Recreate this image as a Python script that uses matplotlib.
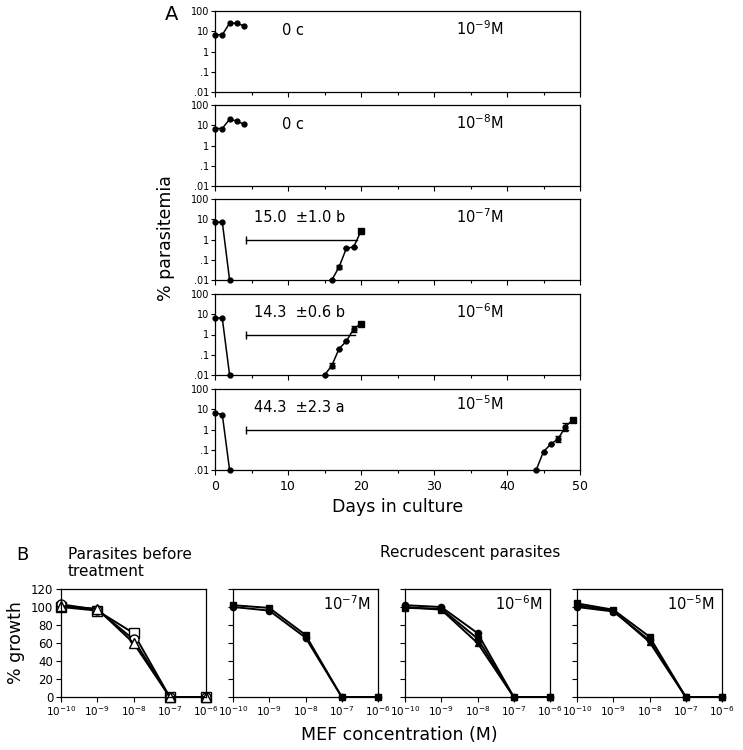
import matplotlib
matplotlib.use("Agg")
import matplotlib.pyplot as plt
from matplotlib.ticker import MultipleLocator, NullLocator

plt.rcParams["font.family"] = ["DejaVu Sans"]

# ---- panel A data: % parasitemia vs days ----
a_labels = ["10$^{-9}$M", "10$^{-8}$M", "10$^{-7}$M", "10$^{-6}$M", "10$^{-5}$M"]
a_notes = ["0 c", "0 c", "15.0  \u00b11.0 b", "14.3  \u00b10.6 b", "44.3  \u00b12.3 a"]

early_days = [[0, 1, 2, 3, 4], [0, 1, 2, 3, 4], [0, 1, 2], [0, 1, 2], [0, 1, 2]]
early_vals = [[6.7, 6.7, 25, 25, 18],
              [6.9, 6.9, 20, 16, 11],
              [7.2, 7.2, 0.01],
              [6.9, 6.2, 0.01],
              [6.8, 5.4, 0.01]]

recr_days = [[], [], [16, 17, 18, 19, 20], [15, 16, 17, 18, 19, 20], [44, 45, 46, 47, 48, 49]]
recr_vals = [[], [],
             [0.01, 0.044, 0.37, 0.43, 2.6],
             [0.01, 0.029, 0.2, 0.47, 1.9, 3.4],
             [0.01, 0.081, 0.19, 0.34, 1.38, 2.95]]
recr_err_lo = [[], [],
               [0, 0.01, 0, 0, 0],
               [0, 0.008, 0, 0, 0.6, 0],
               [0, 0, 0, 0.09, 0.55, 0]]
recr_err_hi = [[], [],
               [0, 0.012, 0, 0, 0],
               [0, 0.012, 0, 0, 0.8, 0],
               [0, 0, 0, 0.12, 0.7, 0]]

# horizontal bars (time to recrudescence) at 1 %
bar_start = [None, None, 4.3, 4.3, 4.3]
bar_end = [None, None, 19.5, 19.2, 48.3]

a_yticks = [100, 10, 1, 0.1, 0.01]
a_yticklabels = ["100", "10", "1", ".1", ".01"]

# ---- panel B data: % growth vs MEF concentration ----
conc = [1e-10, 1e-9, 1e-8, 1e-7, 1e-6]
conc_labels = ["$10^{-10}$", "$10^{-9}$", "$10^{-8}$", "$10^{-7}$", "$10^{-6}$"]

b_titles = [None, "10$^{-7}$M", "10$^{-6}$M", "10$^{-5}$M"]
b_series = [
    [([100, 96, 71, 0, 0], "s", False), ([103, 97, 64, 0, 0], "o", False), ([101, 98, 60, 0, 0], "^", False)],
    [([102, 99, 69, 0, 0], "s", True), ([100, 96, 66, 0, 0], "o", True)],
    [([102, 100, 71, 0, 0], "o", True), ([99, 98, 65, 0, 0], "s", True), ([100, 97, 60, 0, 0], "^", True)],
    [([104, 97, 67, 0, 0], "s", True), ([100, 95, 63, 0, 0], "o", True), ([102, 96, 61, 0, 0], "^", True)],
]

fig = plt.figure(figsize=(7.43, 7.5), dpi=100)

# ---------- panel A ----------
a_left = 215 / 743
a_width = 365 / 743
a_tops = [11, 105, 199, 294, 389]
for i in range(5):
    bottom = 1 - (a_tops[i] + 81) / 750
    ax = fig.add_axes([a_left, bottom, a_width, 81 / 750])
    ax.set_yscale("log")
    ax.set_ylim(0.01, 100)
    ax.set_xlim(0, 50)
    ax.set_yticks(a_yticks, a_yticklabels)
    ax.yaxis.set_minor_locator(NullLocator())
    ax.xaxis.set_major_locator(MultipleLocator(10))
    ax.xaxis.set_minor_locator(MultipleLocator(5))
    ax.tick_params(axis="y", direction="out", length=3, width=0.8, labelsize=7, pad=1)
    ax.tick_params(axis="x", which="major", direction="out", length=3.5, width=0.8, labelsize=9)
    ax.tick_params(axis="x", which="minor", direction="out", length=2.5, width=0.8)
    if i < 4:
        ax.set_xticklabels([])
    for s in ax.spines.values():
        s.set_linewidth(0.9)

    ax.plot(early_days[i], early_vals[i], "-o", color="black", lw=1.1, ms=3.5, clip_on=False)
    if recr_days[i]:
        ax.errorbar(recr_days[i], recr_vals[i], yerr=[recr_err_lo[i], recr_err_hi[i]],
                    fmt="-o", color="black", lw=1.1, ms=3.5, capsize=2, elinewidth=0.9,
                    clip_on=False)
        ax.plot(recr_days[i][-1], recr_vals[i][-1], "s", color="black", ms=3.8)
        ax.plot([bar_start[i], bar_end[i]], [1, 1], color="black", lw=1.0,
                marker="|", markevery=[0], ms=6)

    if i < 2:
        ax.text(9.2, 11, a_notes[i], fontsize=10.5, va="center")
        ax.text(33, 14, a_labels[i], fontsize=10.5, va="center")
    else:
        ax.text(5.3, 12.5, a_notes[i], fontsize=10.5, va="center")
        ax.text(33, 14 if i < 4 else 18, a_labels[i], fontsize=10.5, va="center")

    if i == 4:
        ax.set_xlabel("Days in culture", fontsize=12.5, labelpad=4)

fig.text(172 / 743, 1 - 14 / 750, "A", fontsize=14, ha="center", va="center")
fig.text(166 / 743, 1 - 238 / 750, "% parasitemia", fontsize=12.5, rotation=90,
         ha="center", va="center")

# ---------- panel B ----------
b_lefts = [61, 233, 405, 577]
for j in range(4):
    ax = fig.add_axes([b_lefts[j] / 743, 1 - 697 / 750, 145 / 743, 108 / 750])
    ax.set_xscale("log")
    ax.set_xlim(1e-10, 1e-6)
    ax.set_ylim(0, 120)
    ax.set_xticks(conc, conc_labels)
    ax.xaxis.set_minor_locator(NullLocator())
    ax.set_yticks([0, 20, 40, 60, 80, 100, 120])
    ax.tick_params(axis="y", direction="out", length=3.5, width=0.8, labelsize=8.5, pad=2)
    ax.tick_params(axis="x", direction="out", length=3.5, width=0.8, labelsize=7.5, pad=2)
    if j > 0:
        ax.set_yticklabels([])
    for s in ax.spines.values():
        s.set_linewidth(0.9)
    for vals, mk, filled in b_series[j]:
        ax.plot(conc, vals, "-", marker=mk, color="black", lw=1.4,
                ms=6.5 if not filled else 4.5,
                mfc="black" if filled else "white", mec="black", mew=1.0, clip_on=False)
    if b_titles[j]:
        ax.text(0.95, 0.86, b_titles[j], transform=ax.transAxes, ha="right",
                va="center", fontsize=10.5)
    if j == 0:
        ax.set_ylabel("% growth", fontsize=12.5, labelpad=4)

fig.text(22 / 743, 1 - 555 / 750, "B", fontsize=13, ha="center", va="center")
fig.text(68 / 743, 1 - 563 / 750, "Parasites before\ntreatment", fontsize=11,
         ha="left", va="center", linespacing=1.15)
fig.text(380 / 743, 1 - 553 / 750, "Recrudescent parasites", fontsize=11,
         ha="left", va="center")
fig.text(399 / 743, 1 - 735 / 750, "MEF concentration (M)", fontsize=12.5,
         ha="center", va="center")

fig.savefig("out.png", dpi=100)
